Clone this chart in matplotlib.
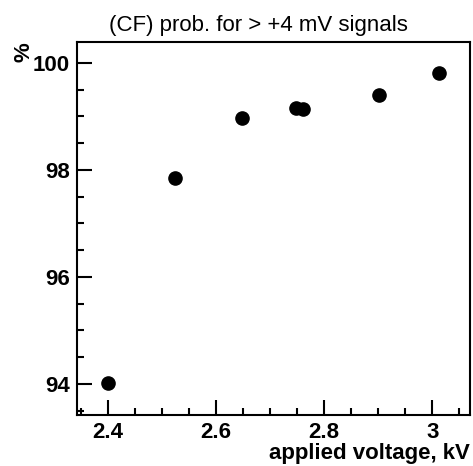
import matplotlib.pyplot as plt
from matplotlib.ticker import MultipleLocator

voltage = [2.40, 2.524, 2.648, 2.748, 2.761, 2.902, 3.012]
prob = [94.01, 97.85, 98.97, 99.16, 99.14, 99.40, 99.81]

plt.rcParams['font.family'] = ['Liberation Sans', 'DejaVu Sans']

fig = plt.figure(figsize=(4.73, 4.66), dpi=100)
ax = fig.add_axes([77/473, 1 - 415/466, (470 - 77)/473, (415 - 42)/466])

ax.plot(voltage, prob, 'o', color='black', markersize=9.5)

ax.set_xlim(2.343, 3.070)
ax.set_ylim(93.42, 100.39)
ax.xaxis.set_major_locator(MultipleLocator(0.2))
ax.xaxis.set_minor_locator(MultipleLocator(0.05))
ax.yaxis.set_major_locator(MultipleLocator(2))
ax.yaxis.set_minor_locator(MultipleLocator(0.5))
ax.set_xticks([2.4, 2.6, 2.8, 3.0], ['2.4', '2.6', '2.8', '3'])

ax.tick_params(which='both', direction='in', top=False, right=False,
               width=1.5, labelsize=16)
ax.tick_params(which='major', length=11)
ax.tick_params(axis='x', which='major', pad=5)
ax.tick_params(axis='y', which='major', pad=5)
ax.tick_params(which='minor', length=5)
for lab in ax.get_xticklabels() + ax.get_yticklabels():
    lab.set_fontweight('bold')
for s in ax.spines.values():
    s.set_linewidth(1.5)

fig.text(258/473, 1 - 31/466, '(CF) prob. for > +4 mV signals',
         fontsize=16, ha='center', va='baseline')
fig.text(470/473, 1 - 459/466, 'applied voltage, kV', fontsize=16,
         fontweight='bold', ha='right', va='baseline')
fig.text(24/473, 1 - 42/466, '%', fontsize=16, fontweight='bold',
         rotation=90, ha='center', va='top')

fig.savefig('out.png', dpi=100)
